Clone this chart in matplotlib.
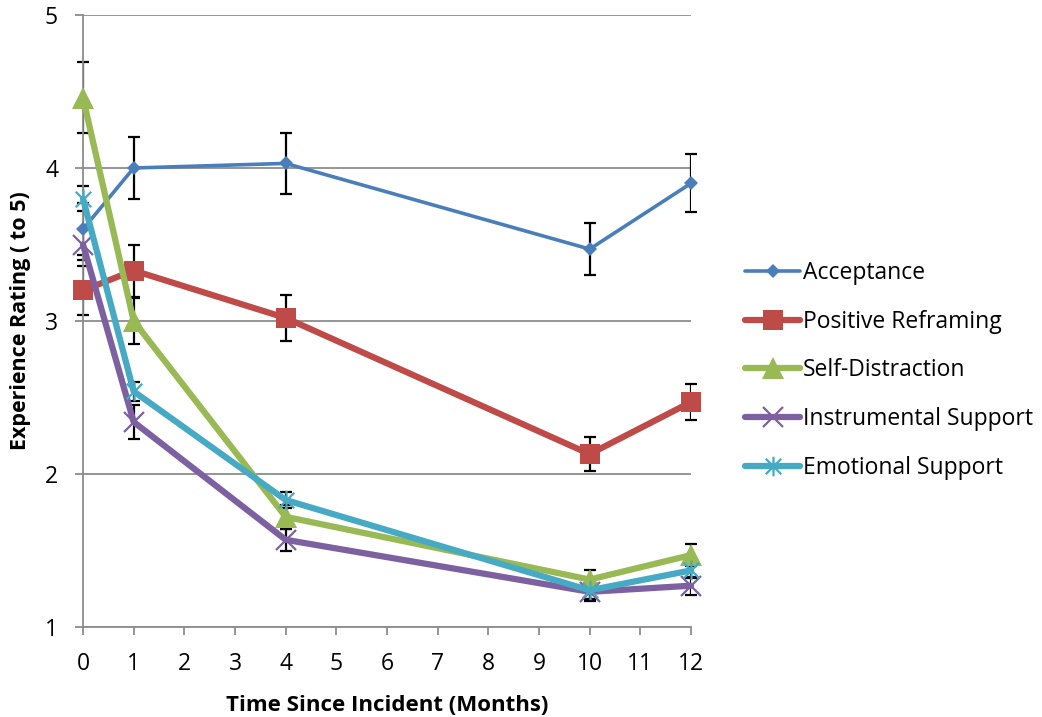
import matplotlib
matplotlib.use("Agg")
import matplotlib.pyplot as plt
from matplotlib.path import Path

plt.rcParams['font.family'] = ['Open Sans', 'DejaVu Sans']

months = [0, 1, 4, 10, 12]
series_names = ["Acceptance", "Positive Reframing", "Self-Distraction",
                "Instrumental Support", "Emotional Support"]

acceptance = [3.60, 4.00, 4.03, 3.47, 3.90]
acceptance_err = [0.17, 0.20, 0.20, 0.17, 0.19]

positive_reframing = [3.20, 3.33, 3.02, 2.13, 2.47]
positive_reframing_err = [0.16, 0.17, 0.15, 0.11, 0.12]

self_distraction = [4.46, 3.00, 1.72, 1.31, 1.47]
self_distraction_err = [0.23, 0.15, 0.08, 0.06, 0.07]

instrumental_support = [3.50, 2.34, 1.57, 1.23, 1.27]
instrumental_support_err = [0.10, 0.11, 0.07, 0.05, 0.06]

emotional_support = [3.80, 2.54, 1.83, 1.24, 1.37]
emotional_support_err = [0.08, 0.06, 0.05, 0.07, 0.05]

x_ticks = list(range(0, 13))
y_ticks = [1, 2, 3, 4, 5]

# Star marker: an X crossed by a vertical stroke
star_path = Path(
    [(-1, -1), (1, 1), (-1, 1), (1, -1), (0, -1.25), (0, 1.25)],
    [Path.MOVETO, Path.LINETO, Path.MOVETO, Path.LINETO, Path.MOVETO, Path.LINETO],
)

styles = [
    dict(color="#4A7EBB", marker="D", ms=7, lw=2.6, mew=0),
    dict(color="#BE4B48", marker="s", ms=15, lw=4.5, mew=0),
    dict(color="#98B954", marker="^", ms=16, lw=4.5, mew=0),
    dict(color="#7D60A0", marker="x", ms=14, lw=4.5, mew=1.6),
    dict(color="#46AAC5", marker=star_path, ms=14, lw=4.5, mew=1.6),
]
values = [acceptance, positive_reframing, self_distraction,
          instrumental_support, emotional_support]
errors = [acceptance_err, positive_reframing_err, self_distraction_err,
          instrumental_support_err, emotional_support_err]

fig = plt.figure(figsize=(10.42, 7.17), dpi=100)
ax = fig.add_axes([83 / 1042, 1 - 627 / 717, (691 - 83) / 1042, (627 - 15) / 717])

for i, (name, vals, errs, st) in enumerate(zip(series_names, values, errors, styles)):
    ax.errorbar(months, vals, yerr=errs, fmt="none", ecolor="black",
                elinewidth=1.6, capsize=4.5, capthick=1.6, zorder=2 + i * 0.1)
    ax.plot(months, vals, label=name, color=st["color"], lw=st["lw"],
            marker=st["marker"], markersize=st["ms"],
            markeredgewidth=st["mew"], markeredgecolor=st["color"],
            markerfacecolor=st["color"], solid_capstyle="round",
            zorder=3 + i * 0.1)

ax.set_xlim(0, 12)
ax.set_ylim(1, 5)
ax.set_xticks(x_ticks)
ax.set_yticks(y_ticks)
ax.yaxis.grid(True, color="#8c8c8c", lw=1.3)
ax.set_axisbelow(True)
for side in ("top", "right"):
    ax.spines[side].set_visible(False)
for side in ("left", "bottom"):
    ax.spines[side].set_color("#8c8c8c")
    ax.spines[side].set_linewidth(1.3)
ax.tick_params(axis="both", colors="#8c8c8c", length=6, width=1.3,
               labelcolor="black", labelsize=16.5)
ax.tick_params(axis="x", pad=12)
ax.tick_params(axis="y", pad=12)
for line in ax.lines:
    line.set_clip_on(False)

ax.set_xlabel("Time Since Incident (Months)", fontsize=16, fontweight="bold", labelpad=14)
ax.set_ylabel("Experience Rating ( to 5)", fontsize=15.5, fontweight="bold", labelpad=10)

leg = fig.legend(loc="upper left", bbox_to_anchor=(745 / 1042, 1 - 261 / 717),
                 frameon=False, fontsize=16.5, handlelength=2.4, handletextpad=0.12,
                 labelspacing=1.08, borderpad=0, borderaxespad=0)

fig.savefig("out.png", dpi=100)
